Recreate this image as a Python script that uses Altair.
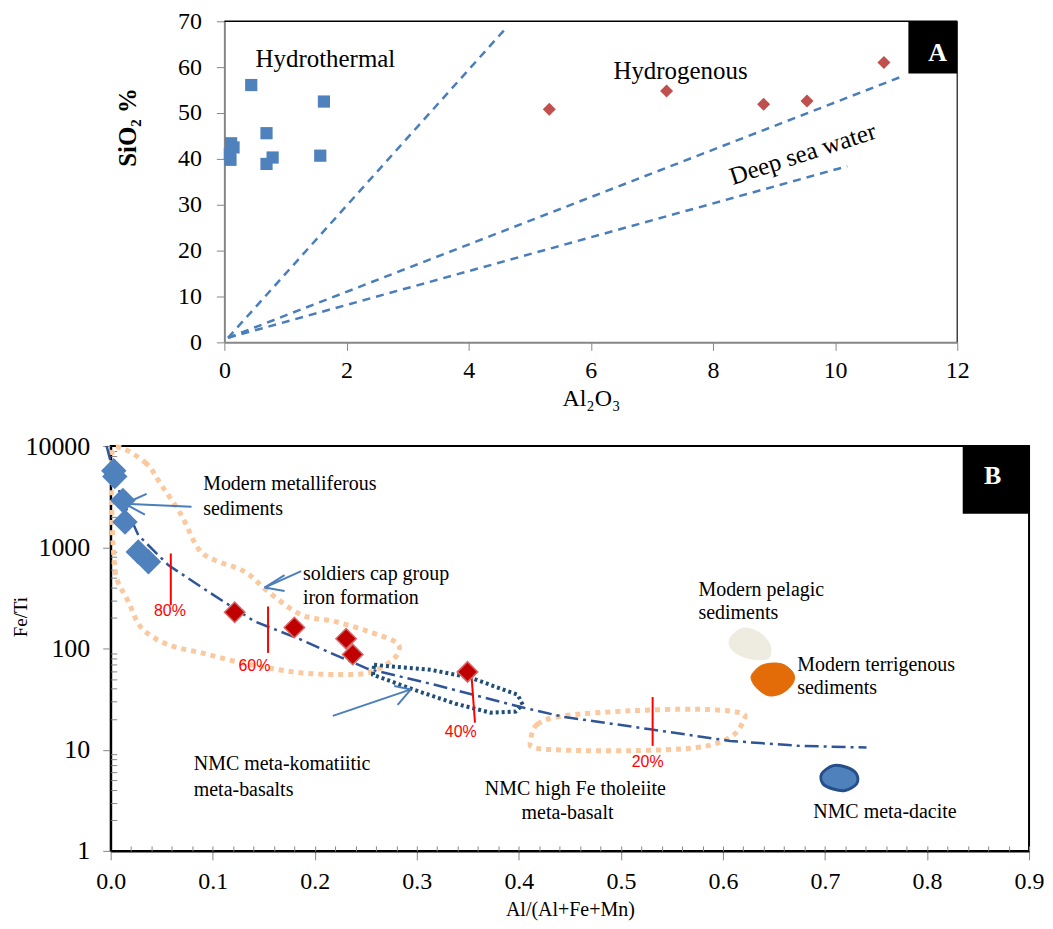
import altair as alt
import pandas as pd

SERIF = "Liberation Serif"
SANS = "Liberation Sans"

# ---------------- Panel A data ----------------
hydrothermal_al2o3 = [0.44, 1.63, 0.69, 0.11, 0.15, 0.09, 0.10, 0.79, 0.69, 1.57]
hydrothermal_sio2 = [56.1, 52.5, 45.6, 43.4, 42.5, 41.0, 39.8, 40.3, 38.9, 40.7]
hydrogenous_al2o3 = [5.32, 7.24, 8.83, 9.54, 10.80]
hydrogenous_sio2 = [50.8, 54.8, 51.9, 52.6, 61.0]
ref_line_name = ["hydrothermal", "hydrothermal", "hydrogenous", "hydrogenous",
                 "deep sea water", "deep sea water"]
ref_line_al2o3 = [0.06, 4.59, 0.06, 11.12, 0.06, 10.20]
ref_line_sio2 = [1.0, 68.2, 1.0, 58.1, 1.0, 38.4]
a_label_text = ["Hydrothermal", "Hydrogenous"]
a_label_x = [0.51, 6.37]
a_label_y = [61.7, 59.2]
seawater_label = ["Deep sea water"]
seawater_label_x = [9.47]
seawater_label_y = [41.1]
a_x_ticks = [0, 2, 4, 6, 8, 10, 12]
a_y_ticks = [0, 10, 20, 30, 40, 50, 60, 70]
a_frame_x = [0, 12]
a_frame_x2 = [12, 12]
a_frame_y = [70, 0]
a_frame_y2 = [70, 70]
a_box_x, a_box_x2, a_box_y, a_box_y2 = [11.2], [12.0], [58.6], [70.0]
a_box_label, a_box_label_x, a_box_label_y = ["A"], [11.68], [63.1]

# ---------------- Panel B data ----------------
metal_x = [0.003, 0.004, 0.012, 0.014, 0.027, 0.037]
metal_y = [5700, 5000, 2900, 1780, 900, 720]
iron_x = [0.1215, 0.180, 0.2307, 0.2372, 0.3497]
iron_y = [228, 161, 125, 87, 58.7]
trend_x = [-0.004, 0.0026, 0.0108, 0.0271, 0.0564, 0.0955, 0.141, 0.1867, 0.2193,
           0.2519, 0.3167, 0.4018, 0.4438, 0.5288, 0.6070, 0.6755, 0.7407]
trend_y = [10000, 5550, 3014, 1313, 667, 365, 185, 122, 87, 63, 44, 26.4, 21.1,
           15.9, 12.2, 10.9, 10.5]
metal_field_x = [0.0042, 0.0335, 0.0499, 0.0694, 0.0857, 0.102, 0.1313, 0.1542, 0.1867,
                 0.2193, 0.2519, 0.2779, 0.2828, 0.2747, 0.2519, 0.2193, 0.1867, 0.1542,
                 0.1215, 0.089, 0.0564, 0.0303, 0.0173, 0.0059, 0.0026, 0.001, 0.001]
metal_field_y = [9710, 6918, 4074, 2065, 972, 746, 574, 365, 215, 185, 148, 118, 97.3,
                 74.8, 57.4, 55.3, 57.4, 64.3, 74.8, 90.4, 109, 159, 291, 493, 972,
                 2228, 4742]
tholeiite_field_x = [0.4115, 0.4181, 0.4441, 0.5093, 0.5745, 0.6168, 0.62, 0.6070,
                     0.5745, 0.5093, 0.4441, 0.4148]
tholeiite_field_y = [12.2, 17.8, 21.6, 24.2, 25.1, 23.2, 19.2, 13.2, 10.5, 9.77, 9.9, 10.5]
komatiite_field_x = [0.2581, 0.3138, 0.3529, 0.3988, 0.4037, 0.3969, 0.3724, 0.3382,
                     0.2972, 0.2571]
komatiite_field_y = [68.9, 61.5, 51.3, 34.9, 27.9, 23.8, 23.2, 28.4, 39.1, 55.0]
pelagic_x = [0.6070, 0.62, 0.6364, 0.6461, 0.6461, 0.6396, 0.6234, 0.6087]
pelagic_y = [126.8, 159, 142, 109, 83.8, 77.6, 80.7, 97.3]
terrigenous_x = [0.6283, 0.6396, 0.6576, 0.6689, 0.6689, 0.6591, 0.6461, 0.6364, 0.6292]
terrigenous_y = [55.3, 69.3, 70.5, 57.4, 45.8, 36.6, 33.9, 37.9, 45.8]
dacite_x = [0.6967, 0.708, 0.7211, 0.7309, 0.7309, 0.7195, 0.708, 0.6982]
dacite_y = [5.75, 6.95, 6.70, 5.75, 4.58, 3.95, 4.09, 4.58]
pct_text = ["80%", "60%", "40%", "20%"]
pct_x = [0.058, 0.1408, 0.3431, 0.5262]
pct_y = [235, 67.3, 14.8, 7.5]
pct_rule_x = [0.0589, 0.1542, 0.353, 0.5311]
pct_rule_x2 = [0.0589, 0.1542, 0.357, 0.5311]
pct_rule_top = [869, 260, 64.5, 33.1]
pct_rule_bottom = [269, 90.4, 18.5, 10.9]
arrow_x = [0.0792, 0.0137, 0.0137, 0.1867, 0.1508, 0.1508, 0.2177, 0.2942, 0.2942]
arrow_y = [2512, 2692, 2692, 582, 400, 400, 21.6, 39.4, 39.4]
arrow_x2 = [0.0137, 0.0352, 0.0335, 0.1508, 0.1704, 0.1704, 0.2942, 0.2779, 0.2812]
arrow_y2 = [2692, 3373, 2099, 400, 531, 370, 39.4, 42.5, 27.7]
b_text = ["Modern metalliferous", "sediments", "soldiers cap group", "iron formation",
          "Modern pelagic", "sediments", "Modern terrigenous", "sediments",
          "NMC meta-komatiitic", "meta-basalts", "NMC high Fe tholeiite", "meta-basalt",
          "NMC meta-dacite"]
b_text_x = [0.0906, 0.0906, 0.1884, 0.1884, 0.576, 0.576, 0.6728, 0.6728, 0.0814,
            0.0814, 0.3666, 0.4027, 0.6885]
b_text_y = [4169, 2404, 543, 313, 378, 223, 69.3, 40.9, 7.21, 3.95, 4.09, 2.36, 2.41]
b_x_ticks = [0.0, 0.1, 0.2, 0.3, 0.4, 0.5, 0.6, 0.7, 0.8, 0.9]
b_x_minor = [round(i * 0.02, 2) for i in range(46)]
b_y_ticks = [1, 10, 100, 1000, 10000]
b_y_minor = [m * 10 ** e for e in range(4) for m in range(2, 10)]
b_box_x, b_box_x2, b_box_y, b_box_y2 = [0.835], [0.9], [2148], [10000]
b_box_label, b_box_label_x, b_box_label_y = ["B"], [0.8644], [5105]

# layout (pixels): panel A is indented relative to panel B
A_INDENT = 114
AW, AH = 735, 322
BW, BH = 921, 406

# ---------------- Panel A ----------------
axA_x = alt.Axis(values=a_x_ticks, title="Al₂O₃", grid=False, labelFont=SERIF, labelFontSize=24,
                 labelFontWeight="normal", labelColor="black", labelPadding=8, labelFlush=False,
                 tickSize=8, tickColor="#868686", domainColor="#868686", domainWidth=2,
                 titleFont=SERIF, titleFontSize=24, titleFontWeight="normal", titleColor="black",
                 titlePadding=4, titleX=A_INDENT + AW / 2)
axA_y = alt.Axis(values=a_y_ticks, title="SiO₂ %", grid=False, labelFont=SERIF, labelFontSize=24,
                 labelFontWeight="normal", labelColor="black", labelPadding=15, labelFlush=False,
                 tickSize=8, tickColor="#868686", domainColor="#868686", domainWidth=2,
                 offset=-A_INDENT, titleFont=SERIF, titleFontSize=25, titleFontWeight="bold",
                 titleColor="black", titleX=-84, titleY=106)
scA_x = alt.Scale(domain=[0, 12], nice=False, zero=False, range=[A_INDENT, A_INDENT + AW])
scA_y = alt.Scale(domain=[0, 70], nice=False, zero=False)


def xa(f):
    return alt.X(f, type="quantitative", scale=scA_x, axis=axA_x)


def ya(f):
    return alt.Y(f, type="quantitative", scale=scA_y, axis=axA_y)


frameA = alt.Chart(pd.DataFrame({"x": a_frame_x, "x2": a_frame_x2, "y": a_frame_y,
                                 "y2": a_frame_y2, "side": ["top", "right"]})).mark_rule(
    strokeWidth=1.5).encode(x=xa("x"), x2="x2", y=ya("y"), y2="y2",
                            color=alt.Color("side:N", scale=alt.Scale(domain=["top", "right"],
                                                                      range=["#000000", "#404040"]),
                                            legend=None))

ref_df = pd.DataFrame({"name": ref_line_name, "x": ref_line_al2o3, "y": ref_line_sio2})
ref_lines = alt.Chart(ref_df).mark_line(color="#4A7EBB", strokeWidth=2.5, strokeDash=[8, 6]).encode(
    x=xa("x"), y=ya("y"), detail="name:N")

hydro = alt.Chart(pd.DataFrame({"x": hydrothermal_al2o3, "y": hydrothermal_sio2})).mark_point(
    shape="square", filled=True, size=150, color="#4F81BD", opacity=1).encode(x=xa("x"), y=ya("y"))
hydrog = alt.Chart(pd.DataFrame({"x": hydrogenous_al2o3, "y": hydrogenous_sio2})).mark_point(
    shape="diamond", filled=True, size=170, color="#C0504D", opacity=1).encode(x=xa("x"), y=ya("y"))

a_labels = alt.Chart(pd.DataFrame({"t": a_label_text, "x": a_label_x, "y": a_label_y})).mark_text(
    font=SERIF, fontSize=25, align="left", baseline="middle", color="black").encode(
    x=xa("x"), y=ya("y"), text="t:N")
sea_label = alt.Chart(pd.DataFrame({"t": seawater_label, "x": seawater_label_x,
                                    "y": seawater_label_y})).mark_text(
    font=SERIF, fontSize=25, align="center", baseline="middle", color="black", angle=342).encode(
    x=xa("x"), y=ya("y"), text="t:N")

a_box = alt.Chart(pd.DataFrame({"x": a_box_x, "x2": a_box_x2, "y": a_box_y, "y2": a_box_y2})).mark_rect(
    color="black").encode(x=xa("x"), x2="x2", y=ya("y"), y2="y2")
a_box_t = alt.Chart(pd.DataFrame({"t": a_box_label, "x": a_box_label_x, "y": a_box_label_y})).mark_text(
    font=SERIF, fontSize=26, fontWeight="bold", color="white", baseline="middle").encode(
    x=xa("x"), y=ya("y"), text="t:N")

chartA = alt.layer(frameA, ref_lines, hydro, hydrog, a_labels, sea_label, a_box, a_box_t).properties(
    width=A_INDENT + AW, height=AH, view=alt.ViewBackground(strokeWidth=0, stroke="transparent"))

# ---------------- Panel B ----------------
scB_x = alt.Scale(domain=[0, 0.9], nice=False, zero=False)
scB_y = alt.Scale(type="log", domain=[1, 10000], nice=False)

axB_x = alt.Axis(orient="bottom", values=b_x_ticks, format=".1f", title="Al/(Al+Fe+Mn)", grid=False,
                 labelFont=SERIF, labelFontSize=24, labelFontWeight="normal", labelColor="black",
                 labelPadding=10, labelFlush=False, tickSize=9, tickColor="#888888",
                 domainColor="black", domainWidth=2, titleFont=SERIF, titleFontSize=20,
                 titleFontWeight="normal", titleColor="black", titlePadding=6)
axB_y = alt.Axis(orient="left", values=b_y_ticks, format="d", title="Fe/Ti", grid=False,
                 labelFont=SERIF, labelFontSize=26, labelFontWeight="normal", labelColor="black",
                 labelPadding=13, labelFlush=False, tickSize=8, tickColor="#888888",
                 domainColor="black", domainWidth=2, titleFont=SERIF, titleFontSize=19,
                 titleFontWeight="normal", titleColor="black", titleX=-80, titleY=171)
axB_xminor = alt.Axis(orient="top", offset=-BH, values=b_x_minor, labels=False, domain=False,
                      grid=False, tickSize=5, tickColor="#888888", title=None)
axB_yminor = alt.Axis(orient="right", offset=-BW, values=b_y_minor, labels=False, domain=False,
                      grid=False, tickSize=6, tickColor="#888888", title=None)


def xb(f, axis=None):
    return alt.X(f, type="quantitative", scale=scB_x, axis=axis)


def yb(f, axis=None):
    return alt.Y(f, type="quantitative", scale=scB_y, axis=axis)


spacerB = alt.Chart(pd.DataFrame({"v": [0]})).mark_rule(color="white", strokeWidth=1).encode(
    x=alt.value(-101), x2=alt.value(-100), y=alt.value(300), y2=alt.value(301))

trend_df = pd.DataFrame({"x": trend_x, "y": trend_y, "i": list(range(len(trend_x)))})
main_axes = alt.Chart(trend_df).mark_point(opacity=0).encode(
    x=xb("x", axB_x), y=yb("y", axB_y))
minor_axes = alt.Chart(trend_df).mark_point(opacity=0).encode(
    x=xb("x", axB_xminor), y=yb("y", axB_yminor))
trend = alt.Chart(trend_df).mark_line(color="#2F5597", strokeWidth=2.5,
                                       strokeDash=[14, 5, 3, 5]).encode(
    x=xb("x"), y=yb("y"), order="i:Q")


def closed_shape(xs, ys, **kw):
    df = pd.DataFrame({"x": xs, "y": ys, "i": list(range(len(xs)))})
    return alt.Chart(df).mark_line(**kw).encode(x=xb("x"), y=yb("y"), order="i:Q")


metal_field = closed_shape(metal_field_x, metal_field_y, interpolate="cardinal-closed",
                           color="#FAC9A0", strokeWidth=5, strokeDash=[5, 5])
thol_field = closed_shape(tholeiite_field_x, tholeiite_field_y, interpolate="cardinal-closed",
                          color="#FAC9A0", strokeWidth=5, strokeDash=[5, 5])
kom_field = closed_shape(komatiite_field_x, komatiite_field_y, interpolate="linear-closed",
                         color="#1F4E79", strokeWidth=4, strokeDash=[3, 3])
pelagic = closed_shape(pelagic_x, pelagic_y, interpolate="cardinal-closed", color="#EEECE1",
                       fill="#EEECE1", strokeWidth=1)
terrig = closed_shape(terrigenous_x, terrigenous_y, interpolate="cardinal-closed", color="#E36C09",
                      fill="#E36C09", strokeWidth=1)
dacite = closed_shape(dacite_x, dacite_y, interpolate="cardinal-closed", color="#254F8A",
                      fill="#4F81BD", strokeWidth=3)

pct_rules = alt.Chart(pd.DataFrame({"x": pct_rule_x, "x2": pct_rule_x2, "y": pct_rule_top,
                                    "y2": pct_rule_bottom})).mark_rule(color="#FF0000", strokeWidth=2).encode(
    x=xb("x"), x2="x2", y=yb("y"), y2="y2")
pct_labels = alt.Chart(pd.DataFrame({"t": pct_text, "x": pct_x, "y": pct_y})).mark_text(
    font=SANS, fontSize=16, color="#FF0000", baseline="middle").encode(x=xb("x"), y=yb("y"), text="t:N")

arrows = alt.Chart(pd.DataFrame({"x": arrow_x, "y": arrow_y, "x2": arrow_x2, "y2": arrow_y2})).mark_rule(
    color="#4A7EBB", strokeWidth=2).encode(x=xb("x"), x2="x2", y=yb("y"), y2="y2")

metal_pts = alt.Chart(pd.DataFrame({"x": metal_x, "y": metal_y})).mark_point(
    shape="diamond", filled=True, size=650, color="#4F81BD", opacity=1).encode(x=xb("x"), y=yb("y"))
iron_pts = alt.Chart(pd.DataFrame({"x": iron_x, "y": iron_y})).mark_point(
    shape="diamond", filled=True, size=420, fill="#C00000", stroke="#D26A6A", strokeWidth=1.5,
    opacity=1).encode(x=xb("x"), y=yb("y"))

b_labels = alt.Chart(pd.DataFrame({"t": b_text, "x": b_text_x, "y": b_text_y})).mark_text(
    font=SERIF, fontSize=20, align="left", baseline="middle", color="black").encode(
    x=xb("x"), y=yb("y"), text="t:N")

b_box = alt.Chart(pd.DataFrame({"x": b_box_x, "x2": b_box_x2, "y": b_box_y, "y2": b_box_y2})).mark_rect(
    color="black").encode(x=xb("x"), x2="x2", y=yb("y"), y2="y2")
b_box_t = alt.Chart(pd.DataFrame({"t": b_box_label, "x": b_box_label_x, "y": b_box_label_y})).mark_text(
    font=SERIF, fontSize=26, fontWeight="bold", color="white", baseline="middle").encode(
    x=xb("x"), y=yb("y"), text="t:N")

chartB = alt.layer(spacerB, main_axes, minor_axes, metal_field, thol_field, kom_field, pelagic,
                   terrig, dacite, trend, pct_rules, pct_labels, arrows, metal_pts, iron_pts,
                   b_labels, b_box, b_box_t).resolve_axis(x="independent", y="independent").properties(
    width=BW, height=BH, view=alt.ViewBackground(stroke="black", strokeWidth=2))

chart = alt.vconcat(chartA, chartB, spacing=22).properties(padding=0)

chart.save("out.html", embed_options={"renderer": "svg", "actions": False})
